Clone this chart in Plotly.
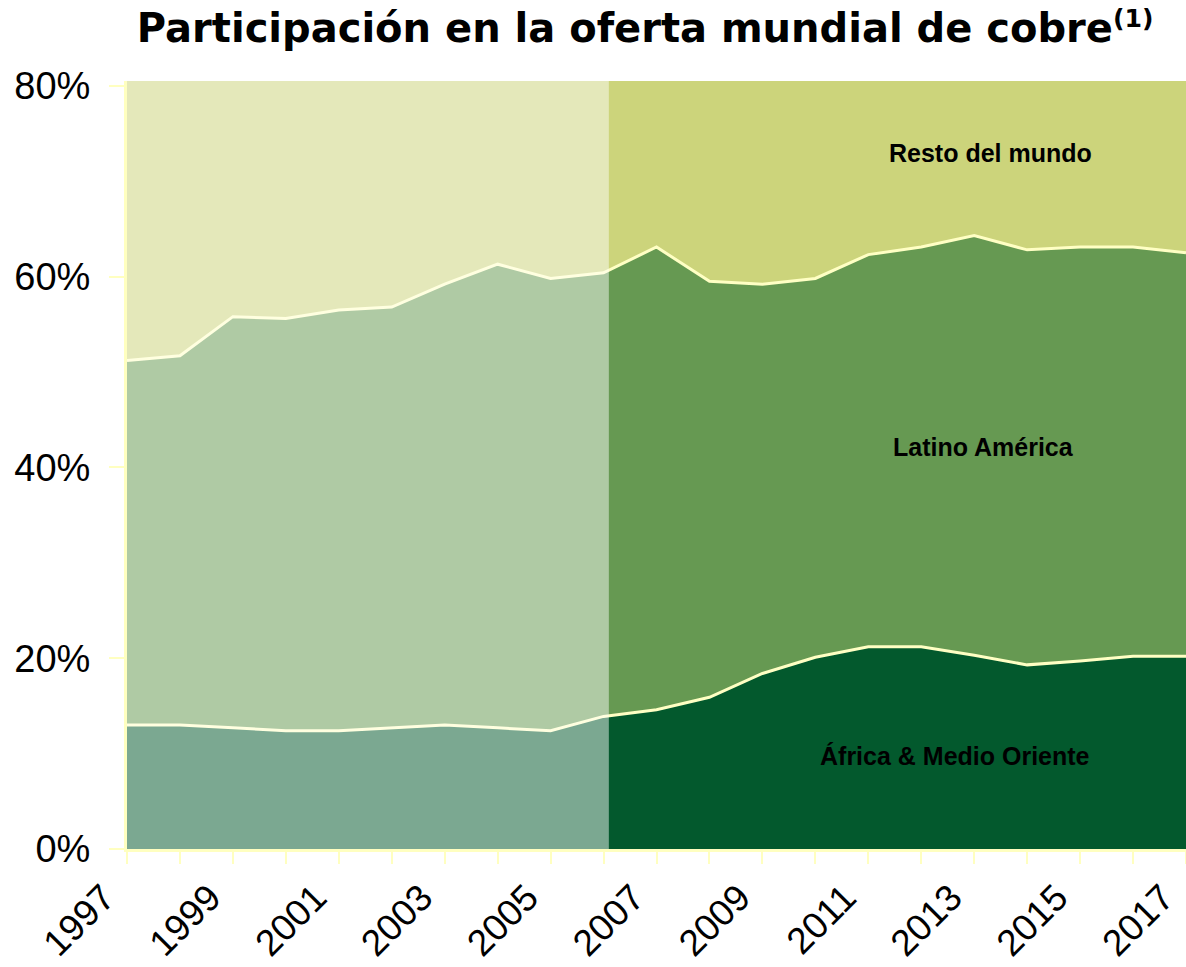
"""
Participación en la oferta mundial de cobre - área apilada
"""
import plotly.graph_objects as go

# años
years = list(range(1997, 2018))

# participación (%) por región
africa = [13.0, 13.0, 12.7, 12.4, 12.4, 12.7, 13.0, 12.7, 12.4, 13.9,
          14.6, 15.9, 18.4, 20.1, 21.2, 21.2, 20.3, 19.3, 19.7, 20.2, 20.2]
latino = [38.2, 38.7, 43.1, 43.2, 44.1, 44.1, 46.2, 48.6, 47.4, 46.5,
          48.5, 43.6, 40.8, 39.7, 41.1, 41.9, 44.0, 43.5, 43.4, 42.9, 42.3]
resto = [48.8, 48.3, 44.2, 44.4, 43.5, 43.2, 40.8, 38.7, 40.2, 39.6,
         36.9, 40.5, 40.8, 40.2, 37.7, 36.9, 35.7, 37.2, 36.9, 36.9, 37.5]

series_names = ["África & Medio Oriente", "Latino América", "Resto del mundo"]
y_ticks = [0, 20, 40, 60, 80]
y_labels = ["0%", "20%", "40%", "60%", "80%"]

# colores
colors = ["#03592D", "#669952", "#CCD47B"]
line_color = "#FFFFC4"
axis_color = "#FFFFC0"
font_family = "Liberation Sans, Arial, sans-serif"
title_family = "DejaVu Sans, Liberation Sans, Arial, sans-serif"

fig = go.Figure()

for name, values, color in zip(series_names, [africa, latino, resto], colors):
    fig.add_trace(go.Scatter(
        x=years,
        y=values,
        name=name,
        mode='lines',
        stackgroup='one',
        line=dict(color=line_color, width=3),
        fillcolor=color,
        hoverinfo='skip'
    ))

# zona histórica atenuada (1997-2006)
fig.add_shape(
    type="rect",
    xref="x", yref="paper",
    x0=1997, x1=2006.1, y0=0, y1=1,
    fillcolor="white", opacity=0.48,
    line=dict(width=0),
    layer="above"
)

# etiquetas de región
label_pos = [(2012.64, 9.75), (2013.17, 42.1), (2013.3, 73.0)]
for name, (lx, ly) in zip(series_names, label_pos):
    fig.add_annotation(
        x=lx, y=ly, xref="x", yref="y",
        text=f"<b>{name}</b>",
        showarrow=False,
        font=dict(family=font_family, size=25, color="black"),
        xanchor="center", yanchor="middle"
    )

fig.update_layout(
    width=1186,
    height=967,
    margin=dict(l=127, r=0, t=81, b=118, autoexpand=False),
    paper_bgcolor="white",
    plot_bgcolor="white",
    showlegend=False,
    font=dict(family=font_family, color="black"),
    title=dict(
        text="<b>Participación en la oferta mundial de cobre"
             "<span style='font-size:36px'><sup>(1)</sup></span></b>",
        font=dict(family=title_family, size=40, color="black"),
        xref="container", yref="container",
        x=0.544, y=0.971,
        xanchor="center", yanchor="middle"
    ),
    xaxis=dict(
        range=[1997, 2017],
        tick0=1997,
        dtick=2,
        tickangle=-45,
        ticks="outside",
        ticklen=12,
        tickwidth=2,
        tickcolor=axis_color,
        ticklabelshift=-23,
        ticklabelstandoff=-3,
        tickfont=dict(family=font_family, size=37, color="black"),
        showline=True,
        linecolor=axis_color,
        linewidth=3,
        showgrid=False,
        zeroline=False,
        automargin=False,
        minor=dict(dtick=1, ticks="outside", ticklen=12, tickwidth=2, tickcolor=axis_color)
    ),
    yaxis=dict(
        range=[0, 80.5],
        tickvals=y_ticks,
        ticktext=y_labels,
        ticks="outside",
        ticklen=15,
        tickwidth=2,
        tickcolor=axis_color,
        ticklabelstandoff=11,
        tickfont=dict(family=font_family, size=38, color="black"),
        showline=True,
        linecolor=axis_color,
        linewidth=3,
        showgrid=False,
        zeroline=False,
        automargin=False
    )
)

# quitar el margen por defecto del body para que el gráfico ocupe toda la ventana
fig.write_html(
    "out.html",
    config={"displayModeBar": False},
    post_script="document.body.style.margin='0';document.body.style.overflow='hidden';"
)
